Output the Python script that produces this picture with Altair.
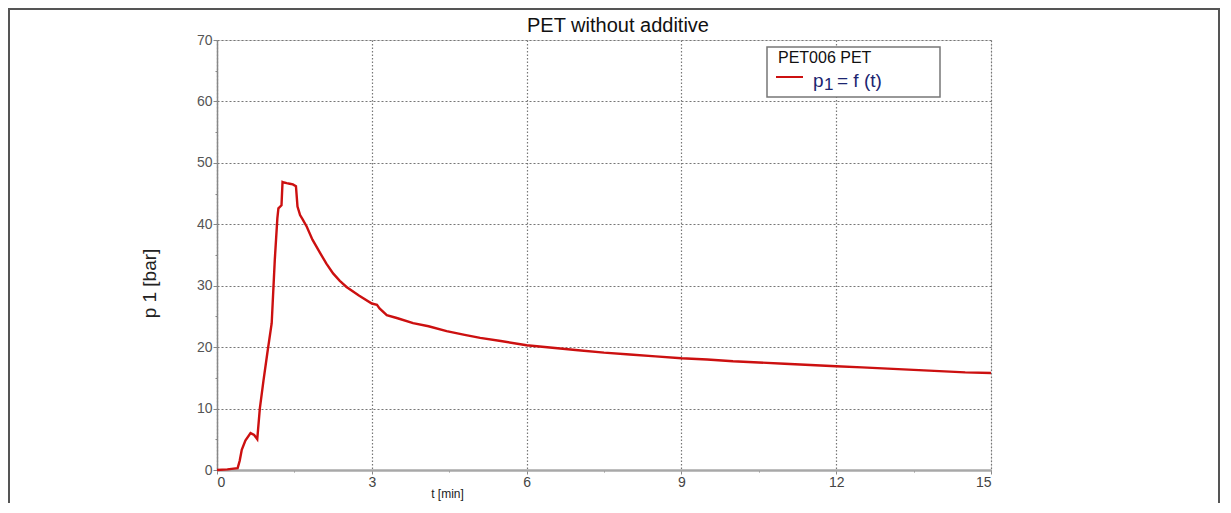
import altair as alt
import pandas as pd

# ---- data ----
t_min = [0, 0.2, 0.4, 0.44, 0.48, 0.55, 0.65, 0.72, 0.78, 0.83, 0.9, 0.975, 1.06, 1.12,
         1.17, 1.19, 1.25, 1.27, 1.30, 1.35, 1.41, 1.47, 1.53, 1.56, 1.61, 1.66, 1.74,
         1.85, 2.0, 2.12, 2.25, 2.38, 2.51, 2.75, 3.0, 3.1, 3.15, 3.29, 3.5, 3.8, 4.1,
         4.45, 4.8, 5.1, 5.5, 6.0, 6.5, 7.0, 7.5, 8.0, 8.5, 9.0, 9.5, 10.0, 10.5, 11.0,
         11.5, 12.0, 12.5, 13.0, 13.5, 14.0, 14.5, 15.0]
p1_bar = [0, 0.1, 0.3, 1.5, 3.3, 4.8, 6.0, 5.7, 5.0, 10.0, 14.5, 19.0, 23.9, 34.2,
          41.0, 42.6, 43.1, 46.9, 46.8, 46.7, 46.6, 46.5, 46.2, 42.9, 41.5, 40.8, 39.6,
          37.5, 35.3, 33.6, 32.0, 30.8, 29.8, 28.4, 27.1, 26.9, 26.3, 25.2, 24.7, 23.9,
          23.4, 22.6, 22.0, 21.5, 21.0, 20.3, 19.9, 19.5, 19.1, 18.8, 18.5, 18.2, 18.0,
          17.7, 17.5, 17.3, 17.1, 16.9, 16.7, 16.5, 16.3, 16.1, 15.9, 15.8]

chart_title = "PET without additive"
legend_title = "PET006 PET"
legend_label_p = "p"
legend_label_sub = "1"
legend_label_rest = "= f (t)"
x_title = "t [min]"
y_title = "p 1 [bar]"
x_ticks = [0, 1.5, 3, 4.5, 6, 7.5, 9, 10.5, 12, 13.5, 15]
y_ticks = [0, 5, 10, 15, 20, 25, 30, 35, 40, 45, 50, 55, 60, 65, 70]

df = pd.DataFrame({"t": t_min, "p": p1_bar})
one = pd.DataFrame({"k": [0]})

FONT = "Liberation Sans"
NARROW = "Liberation Sans Narrow, Arial Narrow, Liberation Sans"
RED = "#cc1010"
NAVY = "#1c2570"

line = alt.Chart(df).mark_line(color=RED, strokeWidth=2.4).encode(
    x=alt.X("t:Q", scale=alt.Scale(domain=[0, 15], nice=False, zero=False),
            axis=alt.Axis(values=x_ticks, title=x_title,
                          labelExpr="datum.value % 3 === 0 ? datum.label : ''",
                          gridOpacity={"condition": {"test": "datum.value % 3 !== 0", "value": 0}, "value": 1},
                          tickSize={"condition": {"test": "datum.value % 3 !== 0", "value": 2}, "value": 4},
                          grid=True, gridDash=[1.5, 2], gridColor="#777", gridWidth=1.2,
                          domainColor="#a8a8a8", domainWidth=2.5, tickColor="#888",
                          labelFont=NARROW, labelFontSize=14, labelColor="#444",
                          labelPadding=1, titleFont=NARROW, titleFontSize=12,
                          titleFontWeight="normal", titleColor="#222",
                          titleX=230, titleY=23, titleBaseline="middle",
                          titleAlign="center")),
    y=alt.Y("p:Q", scale=alt.Scale(domain=[0, 70], nice=False),
            axis=alt.Axis(values=y_ticks, title=y_title,
                          labelExpr="datum.value % 10 === 0 ? datum.label : ''",
                          gridOpacity={"condition": {"test": "datum.value % 10 !== 0", "value": 0}, "value": 1},
                          tickSize={"condition": {"test": "datum.value % 10 !== 0", "value": 2}, "value": 4},
                          grid=True, gridDash=[2, 2], gridColor="#777", gridWidth=1.2,
                          domainColor="#888", domainWidth=1.5, tickColor="#888",
                          labelFont=FONT, labelFontSize=14, labelColor="#555",
                          labelPadding=1, titleFont=FONT, titleFontSize=19,
                          titleFontWeight="normal", titleColor="#222",
                          titleAngle=270, titleX=-68, titleY=243,
                          titleBaseline="middle", titleAlign="center")),
)

frame = alt.Chart(one).mark_rect(filled=False, stroke="#555", strokeWidth=2).encode(
    x=alt.value(-208), x2=alt.value(1002), y=alt.value(-31), y2=alt.value(520))

title = alt.Chart(one).mark_text(text=chart_title, font=FONT, fontSize=20, align="center",
                                 baseline="alphabetic", color="#111").encode(
    x=alt.value(401), y=alt.value(-8))

leg_box = alt.Chart(one).mark_rect(fill="white", stroke="#777", strokeWidth=1.5).encode(
    x=alt.value(550), x2=alt.value(723), y=alt.value(7), y2=alt.value(57))
leg_title = alt.Chart(one).mark_text(text=legend_title, font=FONT, fontSize=16,
                                     align="left", baseline="alphabetic", color="#111").encode(
    x=alt.value(561), y=alt.value(23))
leg_line = alt.Chart(one).mark_rule(color=RED, strokeWidth=2).encode(
    x=alt.value(559), x2=alt.value(586), y=alt.value(37))
leg_p = alt.Chart(one).mark_text(text=legend_label_p, font=FONT, fontSize=19,
                                 align="left", baseline="alphabetic", color=NAVY).encode(
    x=alt.value(596), y=alt.value(47))
leg_sub = alt.Chart(one).mark_text(text=legend_label_sub, font=FONT, fontSize=17,
                                   align="left", baseline="alphabetic", color=NAVY).encode(
    x=alt.value(607), y=alt.value(50))
leg_rest = alt.Chart(one).mark_text(text=legend_label_rest, font=FONT, fontSize=19,
                                    align="left", baseline="alphabetic", color=NAVY).encode(
    x=alt.value(620), y=alt.value(47))

chart = alt.layer(frame, line, title, leg_box, leg_title, leg_line, leg_p, leg_sub, leg_rest).properties(
    width=774, height=430,
    autosize=alt.AutoSizeParams(type="none"),
    padding={"left": 209, "top": 32, "right": 232, "bottom": 33},
).configure_view(stroke=None).configure(background="white")

chart.save("out.html", embed_options={"renderer": "svg", "actions": False})
